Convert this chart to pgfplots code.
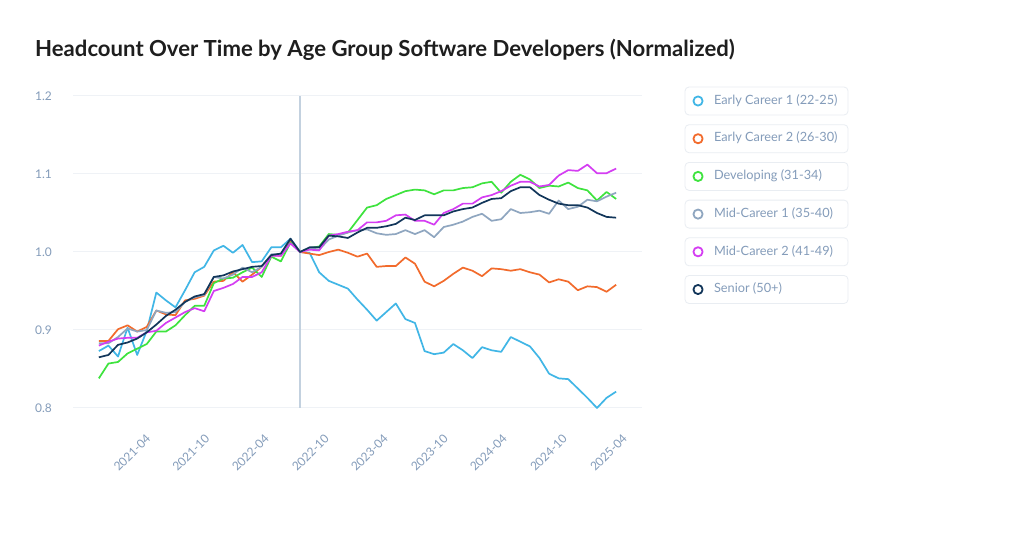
\documentclass[border=0pt]{standalone}
\usepackage{fontspec}
\setmainfont{Lato}
\usepackage{pgfplots}
\pgfplotsset{compat=1.18}
\usepackage{pgfplotstable}

\definecolor{econe}{HTML}{41B6E6}
\definecolor{ectwo}{HTML}{F26B2C}
\definecolor{devel}{HTML}{3EE33E}
\definecolor{mcone}{HTML}{8FA6C0}
\definecolor{mctwo}{HTML}{D43DF2}
\definecolor{senior}{HTML}{12365A}
\definecolor{tickcol}{HTML}{849CBA}
\definecolor{gridcol}{HTML}{EFF2F6}
\definecolor{vlinecol}{HTML}{C3D1DF}
\definecolor{legbox}{HTML}{E9EDF2}
\definecolor{titlecol}{HTML}{1E1E1E}

% month index 0..54, normalised at index 21
\pgfplotstableread{
m ec1 ec2 dev mc1 mc2 sen
0 0.873 0.886 0.838 0.883 0.880 0.865
1 0.880 0.886 0.857 0.883 0.885 0.868
2 0.866 0.901 0.859 0.891 0.889 0.881
3 0.903 0.906 0.870 0.902 0.890 0.884
4 0.868 0.898 0.876 0.898 0.890 0.889
5 0.899 0.904 0.882 0.900 0.897 0.897
6 0.948 0.925 0.898 0.925 0.899 0.907
7 0.938 0.920 0.898 0.922 0.909 0.918
8 0.929 0.919 0.906 0.923 0.916 0.926
9 0.951 0.938 0.919 0.936 0.923 0.936
10 0.974 0.940 0.931 0.942 0.928 0.943
11 0.981 0.944 0.931 0.945 0.924 0.946
12 1.002 0.962 0.960 0.968 0.950 0.968
13 1.008 0.963 0.966 0.966 0.954 0.970
14 0.999 0.974 0.967 0.971 0.959 0.975
15 1.009 0.962 0.974 0.980 0.968 0.978
16 0.987 0.971 0.980 0.974 0.968 0.981
17 0.988 0.981 0.968 0.981 0.974 0.982
18 1.006 0.996 0.994 0.997 0.995 0.996
19 1.006 0.995 0.988 0.997 0.995 0.998
20 1.017 1.015 1.012 1.017 1.011 1.017
21 1.000 1.000 1.000 1.000 1.000 1.000
22 0.999 0.998 1.005 1.005 1.003 1.006
23 0.974 0.996 1.007 1.003 1.002 1.006
24 0.963 1.000 1.023 1.016 1.021 1.021
25 0.958 1.003 1.022 1.021 1.023 1.020
26 0.953 0.999 1.025 1.025 1.026 1.018
27 0.939 0.994 1.041 1.028 1.028 1.025
28 0.926 0.998 1.057 1.029 1.038 1.031
29 0.912 0.981 1.060 1.024 1.038 1.031
30 0.923 0.982 1.068 1.022 1.040 1.033
31 0.934 0.982 1.073 1.023 1.047 1.036
32 0.914 0.993 1.078 1.028 1.048 1.044
33 0.909 0.985 1.080 1.023 1.040 1.041
34 0.873 0.962 1.079 1.028 1.040 1.047
35 0.869 0.956 1.074 1.019 1.035 1.047
36 0.871 0.963 1.079 1.032 1.050 1.047
37 0.882 0.972 1.079 1.035 1.055 1.052
38 0.874 0.980 1.082 1.039 1.062 1.055
39 0.864 0.976 1.083 1.045 1.062 1.057
40 0.878 0.969 1.088 1.049 1.070 1.063
41 0.874 0.979 1.090 1.040 1.073 1.068
42 0.872 0.978 1.076 1.042 1.078 1.069
43 0.891 0.976 1.090 1.055 1.085 1.078
44 0.885 0.978 1.099 1.050 1.090 1.083
45 0.879 0.974 1.093 1.051 1.090 1.083
46 0.864 0.971 1.082 1.053 1.084 1.073
47 0.844 0.961 1.085 1.049 1.086 1.067
48 0.838 0.965 1.084 1.066 1.098 1.062
49 0.837 0.962 1.089 1.055 1.105 1.060
50 0.825 0.951 1.082 1.058 1.104 1.060
51 0.813 0.956 1.079 1.067 1.112 1.057
52 0.800 0.955 1.066 1.065 1.101 1.050
53 0.813 0.949 1.077 1.071 1.101 1.045
54 0.821 0.958 1.068 1.076 1.107 1.044
}\headcount

\begin{document}
\begin{tikzpicture}
\path[use as bounding box, fill=white] (0,0) rectangle (1024bp,534bp);
\node[anchor=base west, inner sep=0pt, text=titlecol,
      font=\fontsize{22.2}{26}\selectfont\bfseries] at (35bp,477.3bp)
  {Headcount Over Time by Age Group Software Developers (Normalized)};

\begin{axis}[
  at={(73bp,126bp)}, anchor=south west,
  scale only axis, width=569bp, height=312bp,
  xmin=-2.7, xmax=56.7,
  ymin=0.8, ymax=1.2,
  clip=false,
  axis line style={draw=none},
  major tick length=0pt,
  ytick={0.8,0.9,1.0,1.1,1.2},
  yticklabels={0.8,0.9,1.0,1.1,1.2},
  xtick={4.84,10.98,17.2,23.46,29.62,35.89,42.05,48.32,54.58},
  xticklabels={2021-04,2021-10,2022-04,2022-10,2023-04,2023-10,2024-04,2024-10,2025-04},
  ymajorgrids,
  grid style={line width=1bp, draw=gridcol},
  yticklabel style={anchor=east, inner sep=0pt, xshift=-21bp,
    font=\fontsize{12}{14}\selectfont, text=tickcol},
  xticklabel style={yshift=-25bp, rotate=45, anchor=north east, inner sep=0pt,
    font=\fontsize{12}{14}\selectfont, text=tickcol},
  every axis plot/.append style={line width=1.7bp, line join=round},
  legend cell align=left,
  legend image code/.code={
    \draw[overlay, draw=legbox, line width=0.8bp, rounded corners=4bp]
      (-13bp,-14bp) rectangle (150bp,14bp);
    \draw[line width=1.8bp] (0bp,0bp) circle (4.6bp);
  },
  legend style={draw=none, fill=none, inner sep=0pt, outer sep=0pt,
    row sep=26.2bp, column sep=10.5bp,
    at={(1.0888,1.0024)}, anchor=north west,
    nodes={inner sep=0pt, text height=9bp, text depth=2.5bp,
      font=\fontsize{12.8}{15}\selectfont, text=tickcol}},
]
\addplot[vlinecol, line width=1.6bp, forget plot] coordinates {(21,0.8) (21,1.2)};
\addplot[econe] table[x=m, y=ec1] {\headcount};
\addlegendentry{Early Career 1 (22-25)}
\addplot[ectwo] table[x=m, y=ec2] {\headcount};
\addlegendentry{Early Career 2 (26-30)}
\addplot[devel] table[x=m, y=dev] {\headcount};
\addlegendentry{Developing (31-34)}
\addplot[mcone] table[x=m, y=mc1] {\headcount};
\addlegendentry{Mid-Career 1 (35-40)}
\addplot[mctwo] table[x=m, y=mc2] {\headcount};
\addlegendentry{Mid-Career 2 (41-49)}
\addplot[senior] table[x=m, y=sen] {\headcount};
\addlegendentry{Senior (50+)}
\end{axis}
\end{tikzpicture}
\end{document}
